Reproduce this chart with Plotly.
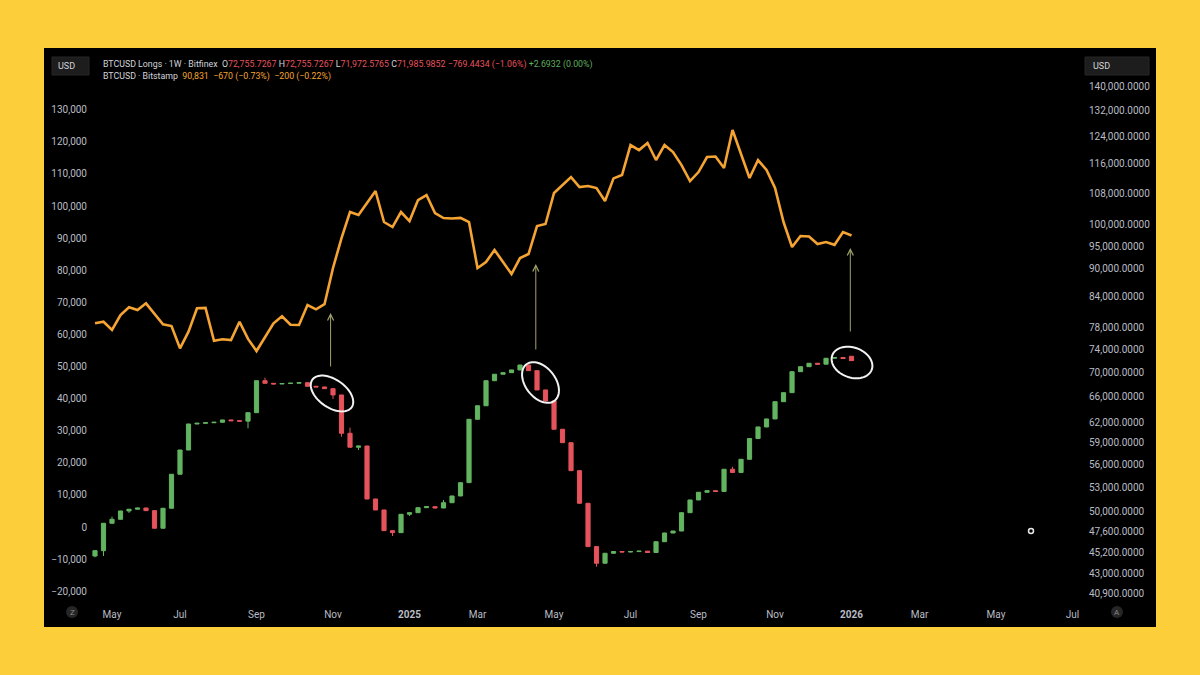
import numpy as np
import pandas as pd
import plotly.graph_objects as go

# ---------------- data ----------------
weeks = pd.date_range("2024-04-22", periods=90, freq="7D")

longs_open = [44840, 45420, 48540, 49010, 50010, 50220, 50370, 50050, 47960, 50340,
              54660, 57970, 61740, 61850, 61930, 62000, 62350, 62230, 62170, 63460,
              68570, 68140, 68030, 68100, 68160, 68240, 67650, 67540, 67260, 66240,
              60370, 58360, 58540, 51480, 50130, 47680, 47450, 49610, 49800, 50410,
              50530, 50370, 51020, 51860, 53560, 62450, 64530, 68570, 69650, 69920,
              70380, 71230, 70260, 67050, 65280, 60960, 59010, 55140, 50950, 45870,
              44060, 45140, 45330, 45280, 45320, 45370, 45220, 46420, 47410, 47640,
              49800, 51360, 52330, 52530, 52430, 55330, 54900, 56680, 59610, 61300,
              62500, 65170, 66610, 70090, 70940, 71530, 71370, 72400, 72540, 72755.7267]
longs_high = [45500, 48560, 49320, 50030, 50240, 50400, 50390, 50070, 50360, 54680,
              57990, 61760, 61900, 61950, 62020, 62370, 62400, 62250, 63480, 68590,
              69090, 68160, 68120, 68180, 68260, 68260, 67670, 67560, 67280, 66260,
              61200, 58560, 58560, 51500, 50150, 47700, 49630, 49820, 50430, 50550,
              50550, 51360, 51880, 53580, 62470, 64550, 68590, 69670, 69940, 70400,
              71250, 71250, 70280, 67070, 65300, 60980, 59030, 55160, 50970, 45890,
              45160, 45350, 45350, 45340, 45390, 45390, 46440, 47430, 47660, 49820,
              51380, 52350, 52550, 52550, 55350, 55670, 56700, 59630, 61320, 62520,
              65190, 66630, 70110, 70960, 71550, 71550, 72420, 72560, 72560, 72755.7267]
longs_low = [44700, 44840, 48520, 48990, 49770, 50200, 50030, 47940, 47940, 50320,
             54640, 57950, 61720, 61830, 61910, 61980, 62210, 62150, 61100, 63440,
             68120, 68010, 68010, 68080, 68140, 67630, 67520, 67240, 65600, 59870,
             58340, 57970, 51460, 50110, 47660, 47070, 47430, 49400, 49780, 50390,
             50350, 50350, 51000, 51840, 53540, 62430, 64510, 68550, 69630, 69900,
             70360, 70240, 67030, 65260, 60940, 58990, 55120, 50930, 45850, 43700,
             44040, 45120, 45260, 45260, 45300, 45200, 45200, 46400, 47390, 47620,
             49780, 51340, 52310, 52410, 52410, 54880, 54880, 56660, 59590, 61280,
             62480, 65150, 66590, 70070, 70920, 71350, 71350, 72380, 72330, 71972.5765]
longs_close = [45420, 48540, 49010, 50010, 50220, 50370, 50050, 47960, 50340, 54660,
               57970, 61740, 61850, 61930, 62000, 62350, 62230, 62170, 63460, 68570,
               68140, 68030, 68100, 68160, 68240, 67650, 67540, 67260, 66240, 60370,
               58360, 58540, 51480, 50130, 47680, 47450, 49610, 49800, 50410, 50530,
               50370, 51020, 51860, 53560, 62450, 64530, 68570, 69650, 69920, 70380,
               71230, 70260, 67050, 65280, 60960, 59010, 55140, 50950, 45870, 44060,
               45140, 45330, 45280, 45320, 45370, 45220, 46420, 47410, 47640, 49800,
               51360, 52330, 52530, 52430, 55330, 54900, 56680, 59610, 61300, 62500,
               65170, 66610, 70090, 70940, 71530, 71370, 72400, 72540, 72350, 71985.9852]

btc_close = [63450, 63950, 61370, 66040, 68440, 67600, 69680, 66570, 63140, 62610,
             55670, 60840, 68130, 68250, 58030, 58470, 58250, 63950, 58600, 54820,
             59280, 63450, 65630, 63000, 62920, 69150, 67810, 69400, 80680, 90020,
             98120, 97190, 100930, 104670, 95010, 93450, 98120, 95320, 101860, 103420,
             97800, 96250, 96100, 96300, 95010, 80680, 82550, 86290, 82550, 78810,
             83790, 85040, 93760, 94390, 104040, 106530, 109020, 105910, 106220, 105600,
             101550, 108600, 109650, 118990, 117430, 119620, 114320, 118990, 116810, 112760,
             107780, 110580, 115250, 115400, 111830, 123670, 115880, 108710, 114320, 111210,
             105600, 95010, 87220, 90650, 90500, 88150, 88780, 87900, 91890, 90831]

left_ticks = list(range(-20000, 130001, 10000))
right_ticks = [140000, 132000, 124000, 116000, 108000, 100000, 95000, 90000, 84000,
               78000, 74000, 70000, 66000, 62000, 59000, 56000, 53000, 50000, 47600,
               45200, 43000, 40900]
x_tick_dates = ["2024-05-06", "2024-07-01", "2024-09-02", "2024-11-04", "2025-01-06",
                "2025-03-03", "2025-05-05", "2025-07-07", "2025-09-01", "2025-11-03",
                "2026-01-05", "2026-03-02", "2026-05-04", "2026-07-06"]
x_tick_text = ["May", "Jul", "Sep", "Nov", "<b>2025</b>", "Mar", "May", "Jul", "Sep",
               "Nov", "<b>2026</b>", "Mar", "May", "Jul"]

# ---------------- styles ----------------
YELLOW = "#FCCF3A"
GREEN = "#63b460"
RED = "#e5535c"
ORANGE = "#f5a433"
AXIS_TXT = "#b9bcc4"
FONT = "Roboto"

W, H = 1200, 675
L, R, T, B = 92, 1078, 70, 600   # plot area in pixels


def px(x):
    return (x - L) / (R - L)


def py(y):
    return (B - y) / (B - T)


fig = go.Figure()

fig.add_trace(go.Scatter(
    x=weeks, y=btc_close, mode="lines", yaxis="y",
    line=dict(color=ORANGE, width=2.6), hoverinfo="skip", showlegend=False))

fig.add_trace(go.Candlestick(
    x=weeks, open=longs_open, high=longs_high, low=longs_low, close=longs_close,
    yaxis="y2",
    increasing=dict(line=dict(color=GREEN, width=1), fillcolor=GREEN),
    decreasing=dict(line=dict(color=RED, width=1), fillcolor=RED),
    whiskerwidth=0, showlegend=False, hoverinfo="skip"))

# ---------------- decorations ----------------
shapes = [
    dict(type="rect", xref="paper", yref="paper", x0=px(44), x1=px(1156),
         y0=py(627), y1=py(48), fillcolor="#000000", line=dict(width=0), layer="below"),
]


def ellipse(cx, cy, a, b, theta):
    t = np.linspace(0, 2 * np.pi, 72)
    th = np.radians(theta)
    xs = cx + a * np.cos(t) * np.cos(th) - b * np.sin(t) * np.sin(th)
    ys = cy + a * np.cos(t) * np.sin(th) + b * np.sin(t) * np.cos(th)
    pts = [f"{px(x):.5f},{py(y):.5f}" for x, y in zip(xs, ys)]
    return "M" + " L".join(pts) + " Z"


for cx, cy, a, b, th in [(332, 393.5, 24, 14, 35), (540.5, 382.5, 23, 15, 52),
                         (852, 362.5, 21, 15, 20)]:
    shapes.append(dict(type="path", xref="paper", yref="paper",
                       path=ellipse(cx, cy, a, b, th),
                       line=dict(color="#f2f2f2", width=2)))


def rbox(x0, y0, x1, y1):
    return dict(type="rect", xref="paper", yref="paper", x0=px(x0), x1=px(x1),
                y0=py(y1), y1=py(y0), fillcolor="#1d1d1d",
                line=dict(color="#262626", width=1))


shapes += [rbox(52, 57, 89, 75), rbox(1085, 57, 1149, 75)]
for cx in (72, 1117):
    shapes.append(dict(type="circle", xref="paper", yref="paper",
                       x0=px(cx - 6), x1=px(cx + 6), y0=py(618), y1=py(606),
                       fillcolor="#262626", line=dict(width=0)))
shapes.append(dict(type="circle", xref="paper", yref="paper",
                   x0=px(1028.5), x1=px(1033.5), y0=py(533.5), y1=py(528.5),
                   line=dict(color="#e8e8e8", width=1.5)))

ann = []
ARROW = "#a3a26c"
for d, tip, tail in [("2024-11-02", 66660, 49530), ("2025-04-20", 81930, 54830),
                     ("2026-01-04", 86910, 60430)]:
    ann.append(dict(x=d, y=tip, ax=d, ay=tail, xref="x", yref="y", axref="x", ayref="y",
                    text="", showarrow=True, arrowhead=5, arrowsize=1.2, arrowwidth=1,
                    arrowcolor=ARROW, standoff=0, startstandoff=0))

nb = "\u00a0"
red = lambda s: f"<span style='color:{RED}'>{s}</span>"
line1 = ("BTCUSD Longs · 1W · Bitfinex" + nb * 2 + "O" + red("72,755.7267") + nb + "H" +
         red("72,755.7267") + nb + "L" + red("71,972.5765") + nb + "C" + red("71,985.9852") +
         nb + red("−769.4434 (−1.06%)") + nb +
         f"<span style='color:#5fae5f'>+2.6932 (0.00%)</span>")
line2 = ("BTCUSD · Bitstamp" + nb * 2 +
         f"<span style='color:{ORANGE}'>90,831{nb}{nb}−670 (−0.73%){nb}{nb}−200 (−0.22%)</span>")
ann.append(dict(xref="paper", yref="paper", x=px(101), y=py(65), xanchor="left",
                yanchor="middle", text=line1, showarrow=False,
                font=dict(family=FONT, size=8.8, color="#d1d4dc")))
ann.append(dict(xref="paper", yref="paper", x=px(101), y=py(76.5), xanchor="left",
                yanchor="middle", text=line2, showarrow=False,
                font=dict(family=FONT, size=8.8, color="#d1d4dc")))
ann.append(dict(xref="paper", yref="paper", x=px(66), y=py(66), xanchor="center",
                yanchor="middle", text="USD", showarrow=False,
                font=dict(family=FONT, size=9, color="#d1d4dc")))
ann.append(dict(xref="paper", yref="paper", x=px(1091), y=py(66), xanchor="left",
                yanchor="middle", text="USD", showarrow=False,
                font=dict(family=FONT, size=9, color="#d1d4dc")))
for cx, s in [(72, "Z"), (1117, "A")]:
    ann.append(dict(xref="paper", yref="paper", x=px(cx), y=py(612), xanchor="center",
                    yanchor="middle", text=s, showarrow=False,
                    font=dict(family=FONT, size=8, color="#8a8a8a")))

# axis ranges derived from pixel geometry
left_range = [-22742, 142369]
right_range = [4.60536, 5.16310]

fig.update_layout(
    width=W, height=H,
    margin=dict(l=L, r=W - R, t=T, b=H - B, pad=0),
    paper_bgcolor=YELLOW, plot_bgcolor="#000000",
    font=dict(family=FONT, color=AXIS_TXT, size=10),
    showlegend=False, hovermode=False,
    shapes=shapes, annotations=ann,
    xaxis=dict(type="date", range=["2024-04-19 12:40", "2026-07-10 12:00"],
               rangeslider=dict(visible=False), showgrid=False, zeroline=False,
               showline=False, tickvals=x_tick_dates, ticktext=x_tick_text,
               ticks="", ticklabelstandoff=7,
               tickfont=dict(family=FONT, size=10, color=AXIS_TXT)),
    yaxis=dict(range=left_range, tickvals=left_ticks, tickformat=",d",
               showgrid=False, zeroline=False, showline=False, ticks="",
               ticklabelstandoff=4,
               tickfont=dict(family=FONT, size=10, color=AXIS_TXT)),
    yaxis2=dict(type="log", range=right_range, overlaying="y", side="right",
                tickvals=right_ticks, tickformat=",.4f", showgrid=False,
                zeroline=False, showline=False, ticks="", ticklabelstandoff=10,
                tickfont=dict(family=FONT, size=10, color=AXIS_TXT)),
)

fig.write_html(
    "out.html",
    config={"displayModeBar": False, "staticPlot": True},
    post_script=("document.body.style.margin='0';document.body.style.padding='0';"
                 f"document.body.style.background='{YELLOW}';"
                 "document.documentElement.style.overflow='hidden';"),
)
